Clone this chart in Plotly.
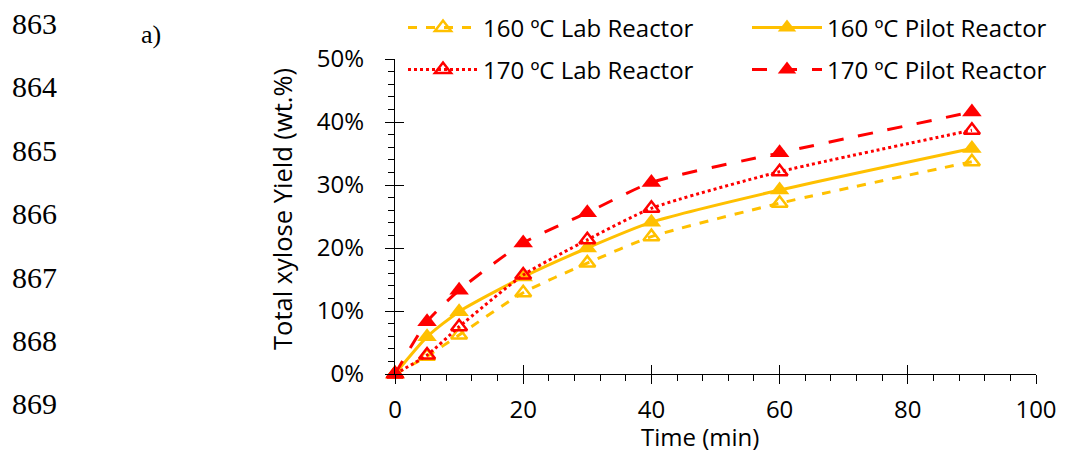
import plotly.graph_objects as go

time_min = [0, 5, 10, 20, 30, 40, 60, 90]
lab_160 = [0.0, 2.8, 6.2, 12.9, 17.6, 21.8, 27.1, 33.7]
pilot_160 = [0.0, 5.9, 9.9, 15.4, 20.0, 24.1, 29.2, 35.8]
lab_170 = [0.0, 3.0, 7.5, 15.7, 21.3, 26.3, 32.1, 38.7]
pilot_170 = [0.0, 8.3, 13.3, 20.8, 25.6, 30.4, 35.1, 41.6]

series_names = ["160 ºC Lab Reactor", "160 ºC Pilot Reactor", "170 ºC Lab Reactor", "170 ºC Pilot Reactor"]
line_numbers = ["863", "864", "865", "866", "867", "868", "869"]
x_title = "Time (min)"
y_title = "Total xylose Yield (wt.%)"

ORANGE = "#FFC000"
RED = "#FF0000"

# page body has an 8px margin; figure coordinates are offset to compensate
OFF = 8
W, H = 1065 - OFF, 453 - OFF
L, T, R = 395 - OFF, 59 - OFF, 29
PW = W - L - R          # 641
PH = 315
B = H - T - PH

def px_x(X):
    return (X - OFF - L) / PW

def px_y(Y):
    return 1 - (Y - OFF - T) / PH

def cx(X):
    return (X - OFF) / W

def cy(Y):
    return 1 - (Y - OFF) / H

fig = go.Figure()

def add(name, y, color, dash, filled, legend):
    fig.add_trace(go.Scatter(
        x=time_min, y=y, name=name, mode="lines+markers",
        line=dict(color=color, width=3, dash=dash, shape="spline", smoothing=0.6),
        marker=dict(symbol="triangle-up" if filled else "triangle-up-open",
                    size=17 if filled else 14, color=color,
                    line=dict(color=color, width=2.5 if not filled else 0)),
        cliponaxis=False, legend=legend,
    ))

add(series_names[0], lab_160, ORANGE, "dash", False, "legend")
add(series_names[1], pilot_160, ORANGE, "solid", True, "legend2")
add(series_names[2], lab_170, RED, "dot", False, "legend3")
add(series_names[3], pilot_170, RED, "longdash", True, "legend4")

FONT = "Open Sans, Lato, sans-serif"
tick_font = dict(family=FONT, size=24, color="#000000")
leg_font = dict(family=FONT, size=24, color="#000000")

def leg(X, Y):
    return dict(orientation="v", x=cx(X), y=cy(Y), xanchor="left", yanchor="middle",
                xref="container", yref="container", font=leg_font,
                bgcolor="rgba(0,0,0,0)", itemwidth=70, borderwidth=0)

fig.update_layout(
    width=W, height=H,
    margin=dict(l=L, r=R, t=T, b=B, autoexpand=False),
    paper_bgcolor="white", plot_bgcolor="white",
    font=tick_font,
    xaxis=dict(range=[0, 100], dtick=20, showgrid=False, zeroline=False,
               showline=True, linecolor="#000", linewidth=1.2,
               ticks="outside", ticklen=9, tickcolor="#000", tickwidth=1.2,
               minor=dict(dtick=4, ticks="outside", ticklen=6, tickcolor="#000", tickwidth=1),
               tickfont=tick_font, ticklabelstandoff=5),
    yaxis=dict(range=[0, 50], dtick=10, showgrid=False, zeroline=False,
               showline=True, linecolor="#000", linewidth=1.2,
               ticks="outside", ticklen=9, tickcolor="#000", tickwidth=1.2,
               minor=dict(dtick=2, ticks="outside", ticklen=6, tickcolor="#000", tickwidth=1),
               ticksuffix="%", tickfont=tick_font, ticklabelstandoff=16),
    xaxis2=dict(range=[0, 100], dtick=20, overlaying="x", side="bottom", showgrid=False,
                zeroline=False, showline=False, ticks="inside", ticklen=9,
                tickcolor="#000", tickwidth=1.2, showticklabels=False, anchor="y"),
    yaxis2=dict(range=[0, 50], dtick=10, overlaying="y", side="left", showgrid=False,
                zeroline=False, showline=False, ticks="inside", ticklen=9,
                tickcolor="#000", tickwidth=1.2, showticklabels=False, anchor="x"),
    legend=leg(403, 28),
    legend2=leg(747, 28),
    legend3=leg(403, 70),
    legend4=leg(747, 70),
    showlegend=True,
)

fig.add_trace(go.Scatter(x=[None], y=[None], xaxis="x2", yaxis="y2", showlegend=False, hoverinfo="skip"))

fig.add_annotation(text=x_title, xref="paper", yref="paper", x=px_x(700), y=px_y(436),
                   xanchor="center", yanchor="middle", showarrow=False,
                   font=dict(family=FONT, size=24, color="#000"))
fig.add_annotation(text=y_title, xref="paper", yref="paper", x=px_x(282), y=px_y(209),
                   xanchor="center", yanchor="middle", showarrow=False, textangle=-90,
                   font=dict(family=FONT, size=25.5, color="#000"))

for i, txt in enumerate(line_numbers):
    fig.add_annotation(text=txt, xref="paper", yref="paper",
                       x=px_x(10), y=px_y(23 + i * 63.4),
                       xanchor="left", yanchor="middle", showarrow=False, height=28,
                       font=dict(family="Liberation Serif, Times New Roman, serif", size=30, color="#000"))
fig.add_annotation(text="a)", xref="paper", yref="paper",
                   x=px_x(139), y=px_y(34),
                   xanchor="left", yanchor="middle", showarrow=False,
                   font=dict(family="Liberation Serif, Times New Roman, serif", size=26, color="#000"))

fig.write_html("out.html")
